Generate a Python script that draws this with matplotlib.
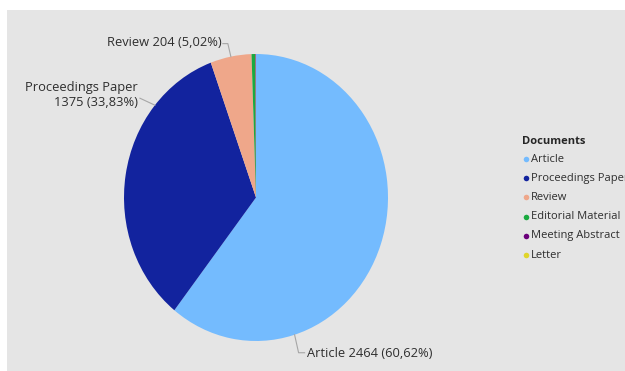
import matplotlib
matplotlib.use('Agg')
import matplotlib.pyplot as plt
import numpy as np
from matplotlib.patches import Rectangle

categories = ['Article', 'Proceedings Paper', 'Review', 'Editorial Material', 'Meeting Abstract', 'Letter']
counts = [2464, 1375, 204, 18, 3, 1]
colors = ['#74bbfe', '#12239e', '#efa78a', '#1aaa40', '#6b007b', '#e0d52a']
legend_title = 'Documents'
label_texts = {0: 'Article 2464 (60,62%)', 1: 'Proceedings Paper\n1375 (33,83%)', 2: 'Review 204 (5,02%)'}

plt.rcParams['font.family'] = ['Open Sans', 'DejaVu Sans']

W, H = 625, 371
fig = plt.figure(figsize=(W / 100, H / 100), dpi=100)
fig.patches.append(Rectangle((7 / W, 0), 1 - 7 / W, (H - 10) / H, transform=fig.transFigure,
                             facecolor='#e5e5e5', edgecolor='none', zorder=-5))

ax = fig.add_axes([124 / W, 30 / H, 264 / W, 287 / H])
wedges, _ = ax.pie(counts, colors=colors, startangle=90, counterclock=False, radius=1,
                   wedgeprops=dict(linewidth=0))
ax.set_aspect('auto')
ax.set_xlim(-1, 1)
ax.set_ylim(-1, 1)
ax.axis('off')

ov = fig.add_axes([0, 0, 1, 1])
ov.set_xlim(0, W)
ov.set_ylim(H, 0)
ov.axis('off')
ov.patch.set_alpha(0)


def edge_px(w, frac):
    th = np.deg2rad(w.theta1 + frac * (w.theta2 - w.theta1))
    x, y = ax.transData.transform((np.cos(th), np.sin(th)))
    return x * W / fig.bbox.width, H - y * H / fig.bbox.height

lc = '#a6a6a6'
tc = '#2e2e2e'
fs = 9.3
# Article
ex, ey = edge_px(wedges[0], 0.253)
ov.plot([ex, ex + 4, ex + 10], [ey, ey + 18, ey + 18], color=lc, lw=0.8)
ov.text(ex + 12, ey + 19, label_texts[0], ha='left', va='center', fontsize=fs, color=tc)
# Proceedings
ex, ey = edge_px(wedges[1], 0.246)
ov.plot([ex - 15, ex], [ey - 7, ey], color=lc, lw=0.8)
ov.text(ex - 17, ey - 10, label_texts[1], ha='right', va='center', fontsize=fs, color=tc,
        multialignment='right', linespacing=1.25)
# Review
ex, ey = edge_px(wedges[2], 0.5)
ov.plot([ex - 8, ex - 3, ex], [ey - 13, ey - 13, ey], color=lc, lw=0.8)
ov.text(ex - 9, ey - 14, label_texts[2], ha='right', va='center', fontsize=fs, color=tc)

# Legend
ov.text(522, 142, legend_title, ha='left', va='center', fontsize=8, fontweight='bold', color='#252525')
for i, (cat, col) in enumerate(zip(categories, colors)):
    y = 159 + 19.2 * i
    ov.plot([526], [y], marker='o', ms=4, color=col, mec='none')
    ov.text(531, y, cat, ha='left', va='center', fontsize=8, color=tc)

fig.savefig('out.png', dpi=100)
